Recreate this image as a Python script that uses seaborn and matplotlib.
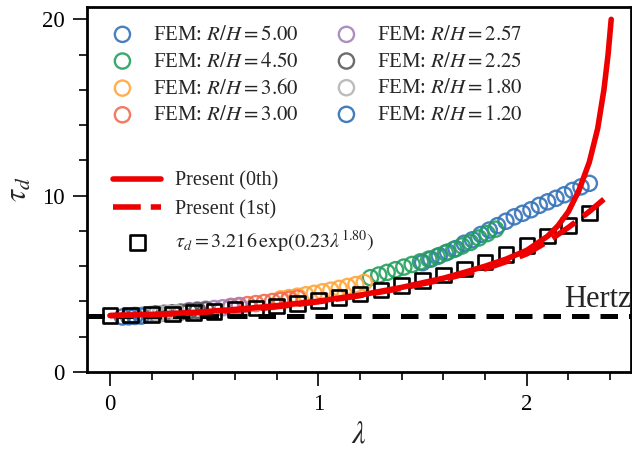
import numpy as np
import pandas as pd
import matplotlib
matplotlib.use('Agg')
import matplotlib.pyplot as plt
import seaborn as sns

# FEM results, one series per R/H
rh_values = [5.00, 4.50, 3.60, 3.00, 2.57, 2.25, 1.80, 1.20]
fem_colors = ['#3572b8', '#23a05e', '#ffa73a', '#f26a4f', '#a583ba', '#5c5c5c', '#b5b5b5', '#2f6fb5']

fem_lam_500 = [1.50, 1.54, 1.58, 1.62, 1.66, 1.70, 1.74, 1.78, 1.82, 1.86, 1.90,
               1.94, 1.98, 2.02, 2.06, 2.10, 2.14, 2.18, 2.22, 2.26, 2.30]
fem_tau_500 = [6.2, 6.4, 6.6, 6.8, 7.0, 7.3, 7.5, 7.8, 8.05, 8.3, 8.55,
               8.8, 9.0, 9.2, 9.45, 9.65, 9.85, 10.05, 10.3, 10.5, 10.7]
fem_lam_450 = [1.25, 1.29, 1.33, 1.37, 1.41, 1.45, 1.49, 1.53, 1.57, 1.61,
               1.65, 1.69, 1.73, 1.77, 1.81, 1.85]
fem_tau_450 = [5.35, 5.5, 5.65, 5.8, 5.95, 6.1, 6.25, 6.4, 6.55, 6.75,
               6.95, 7.15, 7.35, 7.6, 7.85, 8.1]
fem_lam_360 = [0.82, 0.86, 0.90, 0.94, 0.98, 1.02, 1.06, 1.10, 1.14, 1.18, 1.22]
fem_tau_360 = [4.15, 4.22, 4.3, 4.38, 4.46, 4.55, 4.64, 4.74, 4.85, 4.96, 5.08]
fem_lam_300 = [0.58, 0.62, 0.66, 0.70, 0.74, 0.78, 0.82, 0.86, 0.90]
fem_tau_300 = [3.72, 3.77, 3.82, 3.88, 3.94, 4.0, 4.06, 4.12, 4.19]
fem_lam_257 = [0.38, 0.42, 0.46, 0.50, 0.54, 0.58, 0.62]
fem_tau_257 = [3.48, 3.52, 3.56, 3.6, 3.64, 3.69, 3.74]
fem_lam_225 = [0.22, 0.26, 0.30, 0.34, 0.38, 0.42, 0.46]
fem_tau_225 = [3.3, 3.33, 3.36, 3.4, 3.44, 3.48, 3.52]
fem_lam_180 = [0.12, 0.16, 0.20, 0.24, 0.28, 0.32]
fem_tau_180 = [3.22, 3.24, 3.27, 3.3, 3.33, 3.36]
fem_lam_120 = [0.06, 0.09, 0.12, 0.15]
fem_tau_120 = [3.12, 3.13, 3.15, 3.17]

fem_lam = [fem_lam_500, fem_lam_450, fem_lam_360, fem_lam_300,
           fem_lam_257, fem_lam_225, fem_lam_180, fem_lam_120]
fem_tau = [fem_tau_500, fem_tau_450, fem_tau_360, fem_tau_300,
           fem_tau_257, fem_tau_225, fem_tau_180, fem_tau_120]

# Present model, 0th and 1st order
lam_0th = [0.0, 0.2, 0.4, 0.6, 0.8, 1.0, 1.2, 1.4, 1.6, 1.7, 1.8, 1.9, 2.0,
           2.1, 2.15, 2.2, 2.25, 2.3, 2.34, 2.37, 2.39, 2.405]
tau_0th = [3.2, 3.26, 3.38, 3.55, 3.76, 4.02, 4.36, 4.8, 5.32, 5.65, 6.0, 6.4, 6.9,
           7.7, 8.3, 9.1, 10.3, 11.9, 13.8, 16.0, 18.0, 20.0]
lam_1st = [0.0, 0.2, 0.4, 0.6, 0.8, 1.0, 1.2, 1.4, 1.6, 1.8, 1.9, 2.0, 2.1, 2.2, 2.3, 2.37]
tau_1st = [3.2, 3.25, 3.35, 3.5, 3.7, 3.98, 4.33, 4.75, 5.25, 5.85, 6.25, 6.7,
           7.4, 8.2, 9.1, 9.8]

# fitted correlation (squares)
lam_fit = [0.0, 0.1, 0.2, 0.3, 0.4, 0.5, 0.6, 0.7, 0.8, 0.9, 1.0, 1.1,
           1.2, 1.3, 1.4, 1.5, 1.6, 1.7, 1.8, 1.9, 2.0, 2.1, 2.2, 2.3]
tau_fit = [3.22, 3.23, 3.26, 3.30, 3.36, 3.44, 3.53, 3.63, 3.75, 3.89, 4.05, 4.23,
           4.43, 4.65, 4.90, 5.18, 5.50, 5.85, 6.24, 6.67, 7.17, 7.71, 8.32, 9.01]

tau_hertz = 3.2

sns.set_theme(style='ticks')
plt.rcParams['font.family'] = ['Liberation Serif', 'DejaVu Serif']
plt.rcParams['mathtext.fontset'] = 'stix'

fig = plt.figure(figsize=(6.32, 4.5), dpi=100)
ax = fig.add_axes([87 / 632, 78 / 450, 544 / 632, 365 / 450])

fem_handles = []
for rh, c, xs, ys in zip(rh_values, fem_colors, fem_lam, fem_tau):
    df = pd.DataFrame({'lam': xs, 'tau': ys})
    sns.scatterplot(data=df, x='lam', y='tau', ax=ax, marker='o', s=120,
                    facecolor='none', edgecolor=c, linewidth=1.7, alpha=0.9)
    fem_handles.append(ax.collections[-1])

sq = pd.DataFrame({'lam': lam_fit, 'tau': tau_fit})
sns.scatterplot(data=sq, x='lam', y='tau', ax=ax, marker='s', s=110,
                facecolor='none', edgecolor='black', linewidth=1.9, zorder=3)
sq_handle = ax.collections[-1]

ax.axhline(tau_hertz, color='black', lw=3.6, dashes=(3.5, 2.2), zorder=2)

sns.lineplot(x=lam_0th, y=tau_0th, ax=ax, color='#ee0000', lw=4, zorder=4)
h0 = ax.lines[-1]
sns.lineplot(x=lam_1st, y=tau_1st, ax=ax, color='#ee0000', lw=4, zorder=4)
h1 = ax.lines[-1]
h1.set_dashes((5, 1.8))

ax.text(2.18, 3.69, 'Hertz', fontsize=22, va='baseline', ha='left')

ax.set_xlim(-0.11, 2.50)
ax.set_ylim(0, 20.7)
ax.set_xticks([0, 1, 2])
ax.set_xticks(np.arange(0, 2.5, 0.2), minor=True)
ax.set_yticks([0, 10, 20])
ax.set_yticks(np.arange(0, 20.1, 2), minor=True)
ax.tick_params(which='major', direction='out', length=10, width=1.2,
               labelsize=16.5, pad=6, color='black', labelcolor='black')
ax.tick_params(which='minor', direction='out', length=6, width=1.2, color='black')
for s in ax.spines.values():
    s.set_linewidth(2)
    s.set_color('black')

ax.set_xlabel(r'$\lambda$', fontsize=22, labelpad=4)
ax.set_ylabel(r'$\tau_d$', fontsize=22, labelpad=6)

labels1 = [f'FEM: $R/H={v:.2f}$' for v in rh_values]
leg1 = ax.legend(fem_handles, labels1, ncol=2, loc='upper left',
                 bbox_to_anchor=(0.046, 0.95), frameon=False, fontsize=15,
                 labelspacing=0.34, handlelength=1.0, handletextpad=0.95,
                 columnspacing=1.8, borderpad=0, borderaxespad=0)
ax.add_artist(leg1)

labels2 = ['Present (0th)', 'Present (1st)',
           r'$\tau_d=3.216\,\exp(0.23\lambda^{1.80})$']
ax.legend([h0, h1, sq_handle], labels2, loc='upper left',
          bbox_to_anchor=(0.048, 0.549), frameon=False, fontsize=14.5,
          labelspacing=0.45, handlelength=2.4, handletextpad=0.67,
          borderpad=0, borderaxespad=0)

fig.savefig('out.png', dpi=100)
